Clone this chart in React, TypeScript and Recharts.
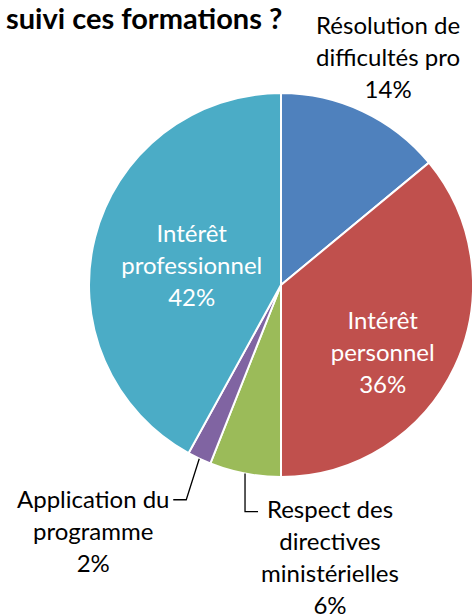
import React from 'react';
import { PieChart, Pie, Cell } from 'recharts';

const categories = [
  'Résolution de difficultés pro',
  'Intérêt personnel',
  'Respect des directives ministérielles',
  'Application du programme',
  'Intérêt professionnel',
];
const labelLines = [
  ['Résolution de', 'difficultés pro'],
  ['Intérêt', 'personnel'],
  ['Respect des', 'directives', 'ministérielles'],
  ['Application du', 'programme'],
  ['Intérêt', 'professionnel'],
];
const shares = [14, 36, 6, 2, 42];

const COLORS = ['#4F81BD', '#C0504D', '#9BBB59', '#8064A2', '#4BACC6'];
const FONT = 'Lato, "Open Sans", sans-serif';
const LINE_H = 32;

type LabelCfg = {
  r: number;
  dx: number;
  dy: number;
  color: string;
  leader?: { ex: number; ey: number; hx: number };
};

// placement of each label, relative to its slice
const LABEL_CFG: LabelCfg[] = [
  { r: 1.2, dx: 9, dy: -20, color: '#000' },
  { r: 0.62, dx: -6, dy: 16, color: '#fff' },
  { r: 1, dx: 72, dy: 45, color: '#000', leader: { ex: 0, ey: 38, hx: 13 } },
  { r: 1, dx: -80, dy: 31, color: '#000', leader: { ex: -13, ey: 41, hx: -13 } },
  { r: 0.48, dx: 0, dy: 2, color: '#fff' },
];

const data = categories.map((name, i) => ({ name, value: shares[i] }));

const RAD = Math.PI / 180;

const renderLabel = (props: any) => {
  const { cx, cy, midAngle, outerRadius, index, value } = props;
  const cfg = LABEL_CFG[index];
  const polar = (r: number) => ({
    x: cx + r * Math.cos(-midAngle * RAD),
    y: cy + r * Math.sin(-midAngle * RAD),
  });
  let bx: number;
  let by: number;
  let leader = null;
  if (cfg.leader) {
    const s = polar(outerRadius);
    const ex = s.x + cfg.leader.ex;
    const ey = s.y + cfg.leader.ey;
    const hx = ex + cfg.leader.hx;
    leader = (
      <path
        d={`M${s.x},${s.y}L${ex},${ey}L${hx},${ey}`}
        stroke="#000"
        strokeWidth={1.3}
        fill="none"
      />
    );
    bx = hx + cfg.dx;
    by = ey + cfg.dy;
  } else {
    const p = polar(outerRadius * cfg.r);
    bx = p.x + cfg.dx;
    by = p.y + cfg.dy;
  }
  const lines = [...labelLines[index], `${value}%`];
  const top = by - ((lines.length - 1) * LINE_H) / 2;
  return (
    <g key={`lbl-${index}`}>
      {leader}
      <text
        x={bx}
        y={top}
        fill={cfg.color}
        textAnchor="middle"
        fontFamily={FONT}
        fontSize={24}
      >
        {lines.map((l, i) => (
          <tspan key={i} x={bx} y={top + i * LINE_H} dominantBaseline="central">
            {l}
          </tspan>
        ))}
      </text>
    </g>
  );
};

const App: React.FC = () => {
  return (
    <div
      style={{
        position: 'absolute',
        left: 0,
        top: 0,
        width: 472,
        height: 614,
        background: '#fff',
        overflow: 'hidden',
      }}
    >
      <div
        style={{
          position: 'absolute',
          left: 6,
          top: 0,
          fontFamily: FONT,
          fontWeight: 'bold',
          fontSize: 29,
          color: '#000',
          whiteSpace: 'nowrap',
          lineHeight: '36px',
        }}
      >
        suivi ces formations ?
      </div>
      <PieChart width={472} height={614} margin={{ top: 0, right: 0, bottom: 0, left: 0 }}>
        <Pie
          data={data}
          dataKey="value"
          nameKey="name"
          cx={281}
          cy={285}
          outerRadius={192}
          startAngle={90}
          endAngle={-270}
          stroke="#fff"
          strokeWidth={2}
          label={renderLabel}
          labelLine={false}
          isAnimationActive={false}
        >
          {data.map((entry, index) => (
            <Cell key={`cell-${index}`} fill={COLORS[index % COLORS.length]} />
          ))}
        </Pie>
      </PieChart>
    </div>
  );
};

export default App;
